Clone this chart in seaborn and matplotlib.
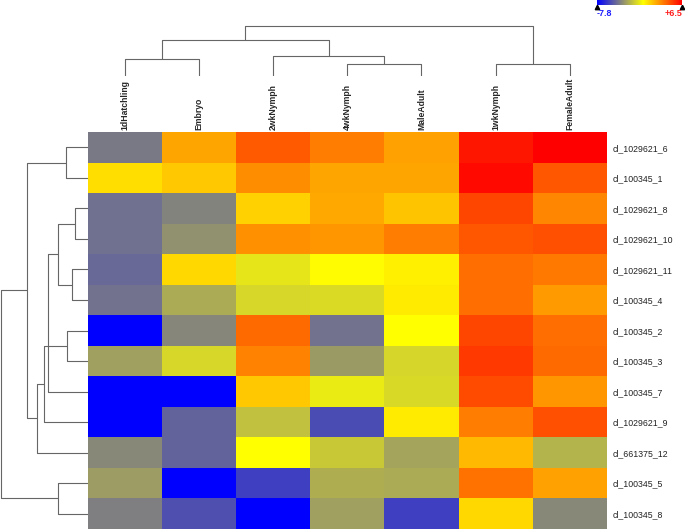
import numpy as np
import pandas as pd
import matplotlib
matplotlib.use("Agg")
import matplotlib.pyplot as plt
import seaborn as sns
from matplotlib.colors import LinearSegmentedColormap

# stages (columns) and transcripts (rows), in the order they are shown
stages = ["1dHatchling", "Embryo", "2wkNymph", "4wkNymph", "MaleAdult", "1wkNymph", "FemaleAdult"]
genes = ["cl_1029621_6", "cl_100345_1", "cl_1029621_8", "cl_1029621_10", "cl_1029621_11",
         "cl_100345_4", "cl_100345_2", "cl_100345_3", "cl_100345_7", "cl_1029621_9",
         "cl_661375_12", "cl_100345_5", "cl_100345_8"]

# expression values (log scale)
expr = [
    [-4.1, 2.3, 4.2, 3.3, 2.4, 5.9, 6.5],
    [0.85, 1.4, 2.9, 2.3, 2.3, 6.25, 4.3],
    [-4.35, -3.8, 1.15, 2.15, 1.5, 4.7, 3.05],
    [-4.35, -3.35, 2.8, 2.7, 3.3, 4.3, 4.45],
    [-4.6, 1.0, -0.8, 0.1, 0.4, 3.7, 3.4],
    [-4.3, -2.6, -1.25, -1.1, 0.5, 3.7, 2.55],
    [-7.8, -3.7, 3.8, -4.3, 0.0, 4.7, 3.7],
    [-2.9, -1.25, 3.2, -3.1, -1.3, 5.0, 3.8],
    [-7.8, -7.8, 1.4, -0.6, -1.2, 4.6, 2.7],
    [-7.8, -4.75, -1.9, -5.5, 0.5, 3.3, 4.45],
    [-3.65, -4.75, 0.0, -1.7, -2.8, 1.8, -2.3],
    [-3.05, -7.8, -5.85, -2.45, -2.6, 3.55, 2.4],
    [-3.9, -5.35, -7.8, -2.9, -5.85, 1.0, -3.65],
]
vmin, vmax = -7.8, 6.5

# dendrograms as (left, right, height) merges; leaves are 0..n-1, merges n, n+1, ...
col_merges = [(0, 1, 16.7), (3, 4, 12.0), (2, 8, 20.0), (7, 9, 36.0), (5, 6, 12.0), (10, 11, 50.3)]
row_merges = [(0, 1, 21.5), (2, 3, 12.5), (4, 5, 15.5), (14, 15, 29.5), (6, 7, 20.5),
              (16, 8, 39.5), (17, 9, 43.5), (19, 10, 50.5), (13, 20, 60.5), (11, 12, 29.5),
              (21, 22, 86.5)]

df = pd.DataFrame(expr, index=genes, columns=stages)

cmap = LinearSegmentedColormap.from_list(
    "bgyr",
    [(0.0, "#0000ff"), ((-3.9 - vmin) / (vmax - vmin), "#808080"),
     ((0 - vmin) / (vmax - vmin), "#ffff00"), (1.0, "#ff0000")])

sns.set_theme(style="white")
plt.rcParams["font.family"] = ["Liberation Sans", "DejaVu Sans"]

W, H = 685, 529
fig = plt.figure(figsize=(W / 100, H / 100), dpi=100)


def frac(x0, y0, x1, y1):
    # pixel box (top-left origin) -> figure fraction rect
    return [x0 / W, 1 - y1 / H, (x1 - x0) / W, (y1 - y0) / H]


hx0, hx1, hy0, hy1 = 87.5, 607, 132, 529
ax = fig.add_axes(frac(hx0, hy0, hx1, hy1))
ax_col = fig.add_axes(frac(hx0, 0, hx1, 76))
ax_row = fig.add_axes(frac(0, hy0, hx0, hy1))
cax = fig.add_axes(frac(597, 0, 682, 4.5))

sns.heatmap(df, ax=ax, cmap=cmap, vmin=vmin, vmax=vmax, cbar=False,
            xticklabels=stages, yticklabels=genes, linewidths=0)
ax.xaxis.tick_top()
ax.yaxis.tick_right()
ax.tick_params(axis="both", length=0)
ax.tick_params(axis="x", pad=1.5)
ax.tick_params(axis="y", pad=4)
ax.set_xlabel("")
ax.set_ylabel("")
for t in ax.get_xticklabels():
    t.set_rotation(90)
    t.set_fontsize(6.2)
    t.set_fontweight("bold")
    t.set_va("bottom")
for t in ax.get_yticklabels():
    t.set_rotation(0)
    t.set_fontsize(6.3)
    t.set_color("#222222")


def draw_tree(axis, merges, n, vertical):
    pos = {i: i + 0.5 for i in range(n)}
    hgt = {i: 0.0 for i in range(n)}
    for k, (a, b, h) in enumerate(merges):
        xs = [pos[a], pos[a], pos[b], pos[b]]
        ys = [hgt[a], h, h, hgt[b]]
        if vertical:
            axis.plot(ys, xs, color="#666666", lw=0.8, solid_capstyle="butt")
        else:
            axis.plot(xs, ys, color="#666666", lw=0.8, solid_capstyle="butt")
        pos[n + k] = (pos[a] + pos[b]) / 2
        hgt[n + k] = h


draw_tree(ax_col, col_merges, len(stages), vertical=False)
ax_col.set_xlim(0, len(stages))
ax_col.set_ylim(0, 76)
ax_col.axis("off")

draw_tree(ax_row, row_merges, len(genes), vertical=True)
ax_row.set_ylim(len(genes), 0)
ax_row.set_xlim(hx0, 0)
ax_row.axis("off")

cb = fig.colorbar(ax.collections[0], cax=cax, orientation="horizontal")
cb.outline.set_visible(False)
cax.set_xticks([])
cax.plot([vmin, vmax], [-0.45, -0.45], ls="none", marker="^", ms=3.2,
         color="black", clip_on=False)
fig.text(597 / W, 1 - 13.5 / H, "-7.8", color="#2020ff", fontsize=6.5,
         fontweight="bold", ha="left", va="center")
fig.text(682 / W, 1 - 13.5 / H, "+6.5", color="#ff2020", fontsize=6.5,
         fontweight="bold", ha="right", va="center")

fig.savefig("out.png", dpi=100)
